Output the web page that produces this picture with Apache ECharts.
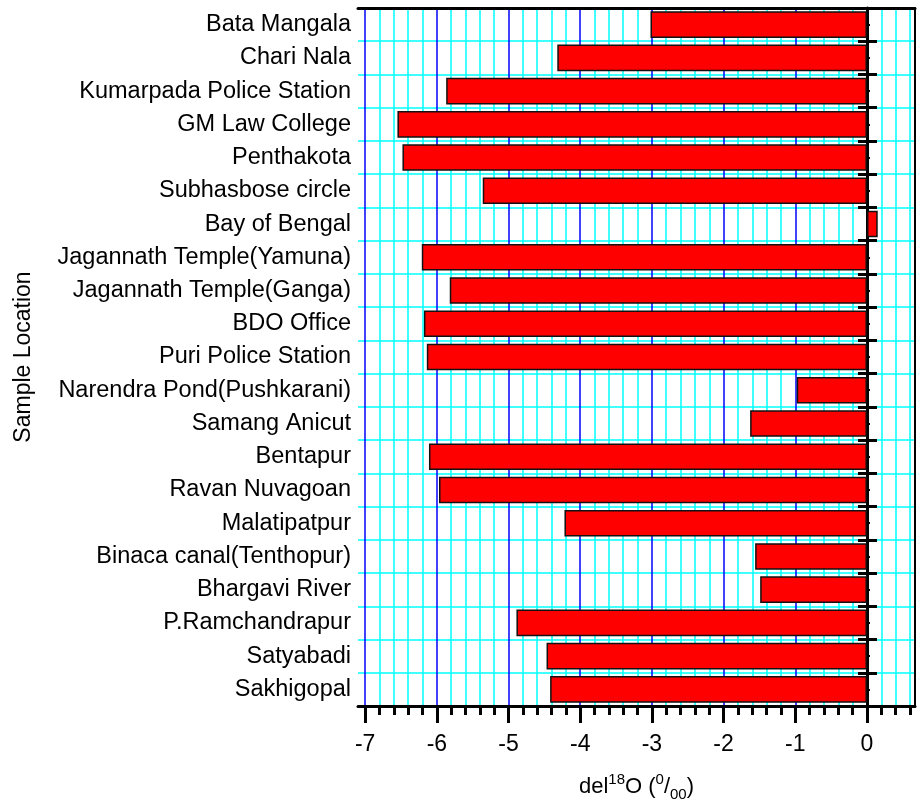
<!DOCTYPE html>
<html>
<head>
<meta charset="utf-8">
<script src="https://cdn.jsdelivr.net/npm/echarts@6/dist/echarts.min.js"></script>
<style>
html,body{margin:0;padding:0;background:#fff;}
#chart{width:917px;height:803px;}
</style>
</head>
<body>
<div id="chart"></div>
<script>
const categories = [
  "Bata Mangala", "Chari Nala", "Kumarpada Police Station", "GM Law College",
  "Penthakota", "Subhasbose circle", "Bay of Bengal", "Jagannath Temple(Yamuna)",
  "Jagannath Temple(Ganga)", "BDO Office", "Puri Police Station",
  "Narendra Pond(Pushkarani)", "Samang Anicut", "Bentapur", "Ravan Nuvagoan",
  "Malatipatpur", "Binaca canal(Tenthopur)", "Bhargavi River", "P.Ramchandrapur",
  "Satyabadi", "Sakhigopal"
];
const del18O = [
  -3.02, -4.32, -5.87, -6.55, -6.48, -5.36, 0.15, -6.21, -5.82, -6.18, -6.14,
  -0.98, -1.63, -6.11, -5.97, -4.22, -1.56, -1.49, -4.89, -4.47, -4.42
];
const xTicks = [-7, -6, -5, -4, -3, -2, -1, 0];
const xMin = -7.1;
const xMax = 0.67;

const FONT = "'Liberation Sans', Arial, sans-serif";
const chart = echarts.init(document.getElementById('chart'), null, {renderer: 'canvas'});

const zeroAxisBase = {
  type: 'category', data: categories, inverse: true, position: 'left',
  axisLabel: {show: false}, splitLine: {show: false}
};

chart.setOption({
  animation: false,
  backgroundColor: '#ffffff',
  grid: {left: 358, right: 2, top: 8, bottom: 97, containLabel: false, outerBoundsMode: 'none'},
  xAxis: [
    {
      type: 'value', position: 'bottom', min: xMin, max: xMax, splitNumber: 8,
      axisLine: {show: true, onZero: false, lineStyle: {color: '#000', width: 3}},
      axisTick: {show: true, length: 17, customValues: xTicks, lineStyle: {color: '#000', width: 3}},
      minorTick: {show: true, splitNumber: 5, length: 9, lineStyle: {color: '#000', width: 3}},
      axisLabel: {customValues: xTicks, fontSize: 23, color: '#000', fontFamily: FONT, margin: 27},
      splitLine: {show: true, lineStyle: {color: '#0000ff', width: 1.5}},
      minorSplitLine: {show: true, lineStyle: {color: '#00ffff', width: 1.5}},
      name: '{m|del}{sup|18}{m|O (}{sup|0}{m|/}{sub|00}{m|)}',
      nameLocation: 'middle', nameGap: 66,
      nameTextStyle: {
        rich: {
          m: {fontSize: 22, lineHeight: 30, color: '#000', fontFamily: FONT},
          sup: {fontSize: 15, lineHeight: 15, verticalAlign: 'top', color: '#000', fontFamily: FONT},
          sub: {fontSize: 15, lineHeight: 8, verticalAlign: 'bottom', color: '#000', fontFamily: FONT}
        }
      }
    },
    {
      type: 'value', position: 'top', min: xMin, max: xMax, splitNumber: 8,
      axisLine: {show: true, onZero: false, lineStyle: {color: '#000', width: 3}},
      axisTick: {show: false}, axisLabel: {show: false}, splitLine: {show: false}
    }
  ],
  yAxis: [
    {
      type: 'category', data: categories, inverse: true, position: 'left',
      axisLine: {show: false, onZero: false}, axisTick: {show: false},
      axisLabel: {fontSize: 23.5, color: '#000', fontFamily: FONT, margin: 7},
      splitLine: {show: true, lineStyle: {color: '#00ffff', width: 1.5}},
      name: 'Sample Location', nameLocation: 'middle', nameRotate: 90, nameGap: 323,
      nameTextStyle: {fontSize: 23, color: '#000', fontFamily: FONT}
    },
    Object.assign({}, zeroAxisBase, {
      axisLine: {show: true, onZero: true, onZeroAxisIndex: 0, lineStyle: {color: '#000', width: 3}},
      axisTick: {show: true, inside: true, length: 10, lineStyle: {color: '#000', width: 3}}
    }),
    Object.assign({}, zeroAxisBase, {
      axisLine: {show: false, onZero: true, onZeroAxisIndex: 0},
      axisTick: {show: true, inside: false, length: 9, lineStyle: {color: '#000', width: 3}}
    }),
    Object.assign({}, zeroAxisBase, {
      axisLine: {show: false, onZero: true, onZeroAxisIndex: 0},
      axisTick: {show: true, inside: true, alignWithLabel: true, length: 3, lineStyle: {color: '#000', width: 2}}
    }),
    {
      type: 'category', data: categories, inverse: true, position: 'right',
      axisLine: {show: true, onZero: false, lineStyle: {color: '#000', width: 2}},
      axisTick: {show: false}, axisLabel: {show: false}, splitLine: {show: false}
    }
  ],
  series: [{
    type: 'bar', xAxisIndex: 0, yAxisIndex: 0, data: del18O, barWidth: '80%',
    itemStyle: {color: '#ff0000', borderColor: '#111', borderWidth: 1.5}
  }]
});
</script>
</body>
</html>
